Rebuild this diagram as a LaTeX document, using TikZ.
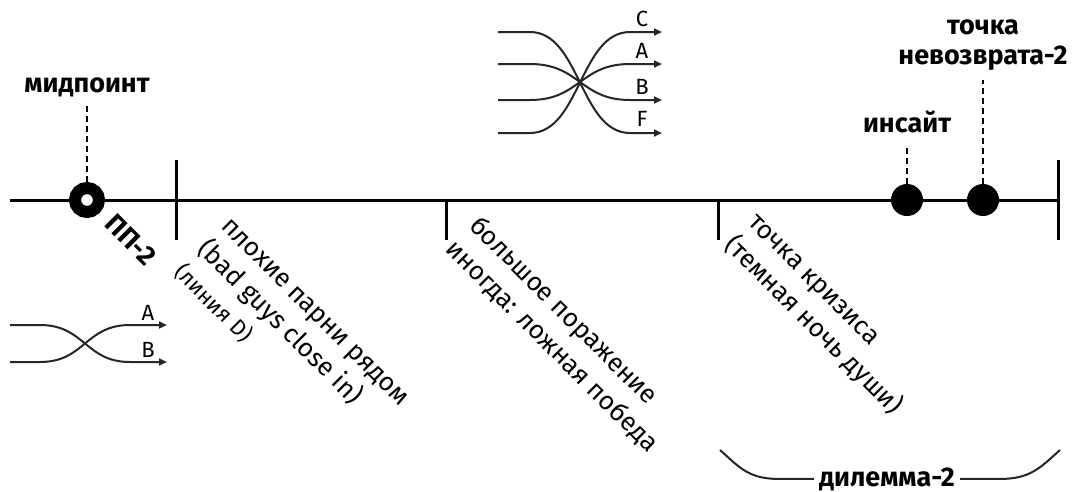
\documentclass[tikz,border=0pt]{standalone}
\usepackage{fontspec}
\setmainfont{Fira Sans}
\usetikzlibrary{arrows.meta}
\begin{document}
\begin{tikzpicture}[x=1pt,y=-1pt,
  axis/.style={line width=3pt},
  leader/.style={line width=2pt, dash pattern=on 6pt off 4pt},
  lbl/.style={font=\fontsize{27}{30}\selectfont\bfseries, inner sep=0pt, align=center},
  note/.style={font=\fontsize{26}{33}\selectfont, inner sep=0pt, align=left, rotate=-45, anchor=north west},
  strand/.style={line width=2pt, black!85, -{Triangle[length=8pt,width=7pt]}},
  tag/.style={font=\fontsize{22}{24}\selectfont, inner sep=0pt},
  brace/.style={line width=2pt, black!85},
  ring/.style={circle, draw, line width=12pt, fill=white, minimum size=24pt, inner sep=0pt},
  dot/.style={circle, fill, minimum size=32pt, inner sep=0pt}]

\useasboundingbox[fill=white] (0,0) rectangle (1072,491);

\coordinate (left) at (10,200);
\coordinate (right) at (1058,200);
\draw[axis] (left) -- (right);
\draw[axis] (176,160) -- (176,240);
\draw[axis] (446,200) -- (446,240);
\draw[axis] (718,200) -- (718,240);
\draw[axis] (1058,160) -- (1058,240);

\node[ring] (mp) at (87,200) {};
\node[dot] (ins) at (907,200) {};
\node[dot] (pnr) at (983,200) {};

\node[lbl, anchor=base] (midlbl) at (87,92) {мидпоинт};
\node[lbl, anchor=base] (inslbl) at (907,132) {инсайт};
\node[lbl, anchor=south] (pnrlbl) at (983,71) {точка\\невозврата-2};
\draw[leader, shorten >=6pt] (mp) -- (midlbl);
\draw[leader, shorten >=15pt] (ins) -- (inslbl);
\draw[leader, shorten >=9pt] (pnr) -- (pnrlbl);

\node[lbl, rotate=-45] (pp) at (131,240) {ПП-2};

\node[note] (badguys) at (230,217) {плохие парни рядом\\(bad guys close in)\\{\fontsize{22}{27}\selectfont(линия D)}};
\node[note] (defeat) at (482,213) {большое поражение\\иногда: ложная победа};
\node[note] (crisis) at (757,213) {точка кризиса\\(темная ночь души)};

\draw[strand] (10,325) -- (40,325) .. controls (85,325) and (85,362) .. (130,362) -- (167,362);
\draw[strand] (10,362) -- (40,362) .. controls (85,362) and (85,325) .. (130,325) -- (167,325);
\node[tag] (sa) at (148,313) {A};
\node[tag] (sb) at (148,350) {B};

\foreach \a/\b in {32/133,64/100,100/64,133/32}
  \draw[strand] (498,\a) -- (530,\a) .. controls (580,\a) and (580,\b) .. (630,\b) -- (662,\b);
\foreach \y/\t in {19/C,51/A,87/B,119/F}
  \node[tag] (t\t) at (642,\y) {\t};

\node[lbl, anchor=base] (dil) at (887,486) {дилемма-2};
\coordinate (dl) at (720,450);
\coordinate (dr) at (1060,450);
\draw[brace, shorten <=5pt] (dil.west) -- ++(-40,0) .. controls +(-30,0) and +(20,18) .. (dl);
\draw[brace, shorten <=5pt] (dil.east) -- ++(45,0) .. controls +(30,0) and +(-20,18) .. (dr);
\end{tikzpicture}
\end{document}
